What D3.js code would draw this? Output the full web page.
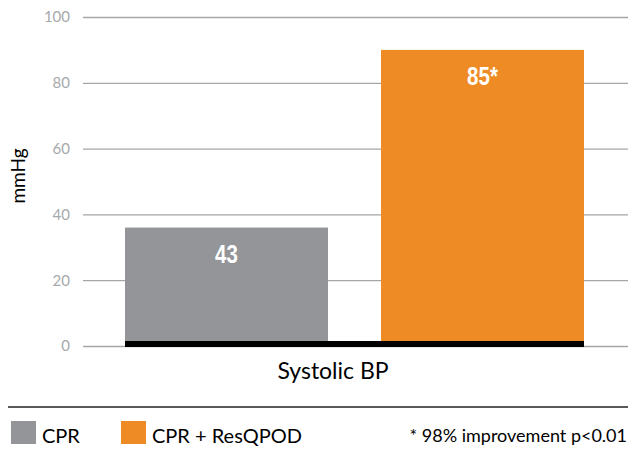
<!DOCTYPE html>
<html>
<head>
<meta charset="utf-8">
<script src="https://cdn.jsdelivr.net/npm/d3@7"></script>
<style>
  body { margin: 0; background: #fff; }
  svg { display: block; }
</style>
</head>
<body>
<div id="chart"></div>
<script>
// chart data
var categories = ["CPR", "CPR + ResQPOD"];
var barValues = [36, 90];        // bar heights as drawn
var barLabels = ["43", "85*"];   // printed values
var barColors = ["#939598", "#ef8b24"];
var yTicks = [0, 20, 40, 60, 80, 100];

var W = 628, H = 458;
var font = "Lato, 'Open Sans', sans-serif";

var svg = d3.select("#chart").append("svg")
    .attr("width", W)
    .attr("height", H);

var x = d3.scaleBand()
    .domain(categories)
    .range([125, 584])
    .paddingInner(0.207)
    .paddingOuter(0);

var y = d3.scaleLinear()
    .domain([0, 100])
    .range([346, 17]);

// grid + tick labels
var yAxis = d3.axisLeft(y)
    .tickValues(yTicks)
    .tickSize(-(W - 83))
    .tickPadding(13);

var gAxis = svg.append("g")
    .attr("transform", "translate(83,0)")
    .call(yAxis);

gAxis.select(".domain").remove();
gAxis.selectAll(".tick line")
    .attr("stroke", "#a6a6a6")
    .attr("stroke-width", 1.3);
gAxis.selectAll(".tick text")
    .attr("fill", "#a7a9ac")
    .style("font-family", font)
    .style("font-size", "15px");

// bars
svg.selectAll("rect.bar")
    .data(categories)
    .enter().append("rect")
    .attr("class", "bar")
    .attr("x", function(d) { return x(d); })
    .attr("width", x.bandwidth())
    .attr("y", function(d, i) { return y(barValues[i]); })
    .attr("height", function(d, i) { return y(0) - y(barValues[i]); })
    .attr("fill", function(d, i) { return barColors[i]; });

// thick black base line under the bars
svg.append("rect")
    .attr("x", x(categories[0]))
    .attr("width", x(categories[categories.length - 1]) + x.bandwidth() - x(categories[0]))
    .attr("y", y(0) - 5)
    .attr("height", 6)
    .attr("fill", "#000");

// value labels (condensed look via horizontal scale)
svg.selectAll("text.val")
    .data(categories)
    .enter().append("text")
    .attr("class", "val")
    .attr("transform", function(d, i) {
        return "translate(" + (x(d) + x.bandwidth() / 2) + "," + (y(barValues[i]) + 35) + ") scale(0.82,1)";
    })
    .attr("text-anchor", "middle")
    .attr("fill", "#fff")
    .style("font-family", "'Liberation Sans', Arial, sans-serif")
    .style("font-weight", "bold")
    .style("font-size", "25px")
    .text(function(d, i) { return barLabels[i]; });

// axis titles
svg.append("text")
    .attr("transform", "translate(25,176) rotate(-90)")
    .attr("text-anchor", "middle")
    .attr("fill", "#000")
    .style("font-family", font)
    .style("font-size", "19px")
    .text("mmHg");

svg.append("text")
    .attr("x", 333)
    .attr("y", 379)
    .attr("text-anchor", "middle")
    .attr("fill", "#000")
    .style("font-family", font)
    .style("font-size", "23px")
    .text("Systolic BP");

// separator
svg.append("line")
    .attr("x1", 8).attr("x2", W)
    .attr("y1", 407).attr("y2", 407)
    .attr("stroke", "#222")
    .attr("stroke-width", 1.4);

// legend
var legendX = [11, 121];
var lg = svg.selectAll("g.leg")
    .data(categories)
    .enter().append("g")
    .attr("class", "leg")
    .attr("transform", function(d, i) { return "translate(" + legendX[i] + ",421)"; });

lg.append("rect")
    .attr("width", 25)
    .attr("height", 23)
    .attr("fill", function(d, i) { return barColors[i]; });

lg.append("text")
    .attr("x", 31)
    .attr("y", 22)
    .attr("fill", "#000")
    .style("font-family", font)
    .style("font-size", "20px")
    .text(function(d) { return d; });

svg.append("text")
    .attr("x", 627)
    .attr("y", 442)
    .attr("text-anchor", "end")
    .attr("fill", "#000")
    .style("font-family", font)
    .style("font-size", "18px")
    .text("* 98% improvement p<0.01");
</script>
</body>
</html>
